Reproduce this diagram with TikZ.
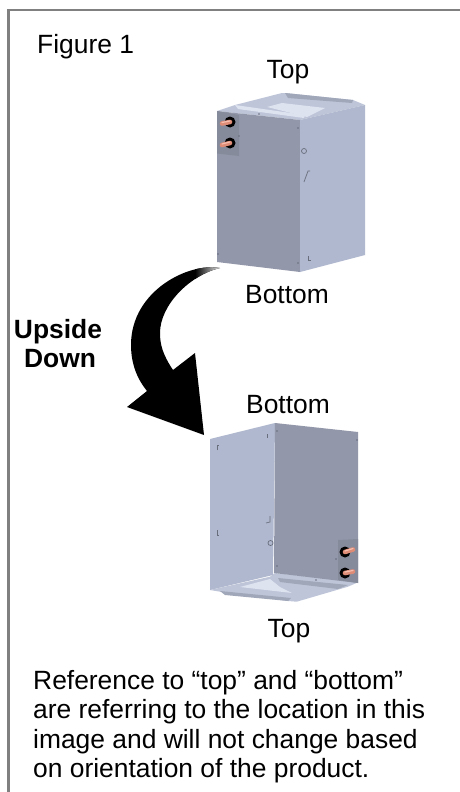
\documentclass[tikz,border=0pt]{standalone}
\usepackage{fontspec}
\usepackage{xcolor}
\setmainfont{Liberation Sans}
\definecolor{framegray}{RGB}{128,128,128}
\definecolor{faceDark}{RGB}{146,151,169}
\definecolor{faceLight}{RGB}{175,184,206}
\definecolor{facePanel}{RGB}{134,139,155}
\definecolor{plateGray}{RGB}{190,197,216}
\definecolor{plateLight}{RGB}{222,227,240}
\definecolor{flangeGray}{RGB}{160,167,185}
\definecolor{copperTube}{RGB}{222,140,118}
\definecolor{copperShine}{RGB}{245,190,175}
\definecolor{boltGray}{RGB}{105,110,125}

\newcommand{\bendarrow}{(220,268) .. controls (190,262) and (131,290) .. (131,345)
  .. controls (131,365) and (138,380) .. (147,391) -- (127,407) -- (204,435) -- (195,353)
  -- (173,370) .. controls (163,355) and (160,345) .. (160,333)
  .. controls (160,305) and (190,275) .. (220,268) -- cycle}

\begin{document}
\begin{tikzpicture}[
  x=1pt, y=-1pt,
  lbl/.style={font=\fontsize{26.4}{29.5}\selectfont, text=black, inner sep=0pt},
  dark/.style={fill=faceDark},
  light/.style={fill=faceLight},
  panel/.style={fill=facePanel},
  plate/.style={fill=plateGray},
  inset/.style={fill=plateLight},
  flange/.style={fill=flangeGray},
  port/.style={circle, fill=black, minimum size=11pt, inner sep=0pt},
  tube/.style={line width=4.6pt, copperTube, line cap=round},
  shine/.style={line width=1.2pt, copperShine, line cap=round},
  bolt/.style={circle, fill=boltGray, minimum size=1.8pt, inner sep=0pt},
  dent/.style={boltGray, line width=0.7pt}
]
\useasboundingbox (0,0) rectangle (460,792);
\fill[white] (0,0) rectangle (460,792);

% frame
\coordinate (frameA) at (8.7,792);
\coordinate (frameB) at (8.7,10);
\coordinate (frameC) at (460,10);
\draw[framegray, line width=2.8pt] (frameA) -- (frameB) -- (frameC);

% turning arrow
\fill[black] \bendarrow;
\begin{scope}
  \clip \bendarrow;
  \shade[left color=black, right color=white] (195,255) rectangle (223,285);
\end{scope}

% upper unit
\fill[plate] (217,111) -- (235,105) -- (282,93) -- (285,93) -- (353,100) -- (365,105) -- (300,120) -- cycle;
\fill[inset] (267,107) -- (282,103) -- (325,108) -- (307,117) -- cycle;
\fill[flange] (285,93) -- (353,100) -- (352,103) -- (288,98) -- cycle;
\fill[plateLight] (235,105) -- (238,109) -- (304,118) -- (305,115) -- cycle;
\fill[dark] (217,111) -- (300,120) -- (300,272) -- (217,262) -- cycle;
\fill[light] (300,120) -- (365,105) -- (365,255) -- (300,272) -- cycle;
\fill[panel] (217,111) -- (239,115) -- (239,156) -- (217,153.5) -- cycle;
\node[port] (portA) at (230,122) {};
\node[port] (portB) at (230,143) {};
\draw[tube] (portA.center) -- (222,123.5);
\draw[tube] (portB.center) -- (222,145);
\draw[shine] (230,121) -- (222,122.5);
\draw[shine] (230,142) -- (222,144);
\draw[dent] (304,151) circle (2.5pt);
\draw[dent] (304,182) -- (308,171) -- (310,171);
\draw[dent] (308,256) -- (308,260) -- (311,260);
\foreach \px/\py in {298/128, 298/263, 218/254, 239/136, 259/114} {
  \node[bolt] at (\px,\py) {};
}

% lower unit
\fill[plate] (270,576.7) -- (210,590) -- (220,591.7) -- (288,601) -- (296.7,601.7) -- (348,586.7) -- (358,582.3) -- (275,573) -- cycle;
\fill[inset] (240,587) -- (270,579) -- (280,587) -- (292,593) -- cycle;
\fill[flange] (220,591) -- (225,595) -- (288,601) -- (291,598) -- cycle;
\fill[flange] (278,578) -- (348,585) -- (338,589) -- (280,582) -- cycle;
\fill[light] (210,439) -- (275,423) -- (273,575) -- (210,590) -- cycle;
\fill[dark] (275,423) -- (358,432) -- (358,583) -- (274,573) -- cycle;
\fill[panel] (338,540) -- (358,539) -- (358,583) -- (338,580) -- cycle;
\node[port] (portC) at (345,552) {};
\node[port] (portD) at (345,573) {};
\draw[tube] (portC.center) -- (353,549.5);
\draw[tube] (portD.center) -- (353,571.5);
\draw[shine] (345,551) -- (353,548.5);
\draw[shine] (345,572) -- (353,570.5);
\draw[dent] (270.5,543) circle (2.5pt);
\draw[dent] (266,523) -- (270,522) -- (270,516);
\draw[dent] (217,450) -- (217,445) -- (219,445);
\draw[dent] (217,530) -- (217,535) -- (219,535);
\draw[dent] (267,434) -- (267,438);
\foreach \px/\py in {277/431, 357/440, 277/566, 336/559, 316/580} {
  \node[bolt] at (\px,\py) {};
}

% labels
\node[lbl, anchor=base west] (figlabel) at (37,53) {Figure 1};
\node[lbl, anchor=base] (topA) at (288,78) {Top};
\node[lbl, anchor=base] (bottomA) at (287,303) {Bottom};
\node[lbl, anchor=base] (upside) at (58,338) {\bfseries Upside};
\node[lbl, anchor=base] (down) at (60,367) {\bfseries Down};
\node[lbl, anchor=base] (bottomB) at (288,413) {Bottom};
\node[lbl, anchor=base] (topB) at (289,637) {Top};
\node[lbl, anchor=north west, align=left] (note) at (33,670) {Reference to “top” and “bottom”\\are referring to the location in this\\image and will not change based\\on orientation of the product.};
\end{tikzpicture}
\end{document}
